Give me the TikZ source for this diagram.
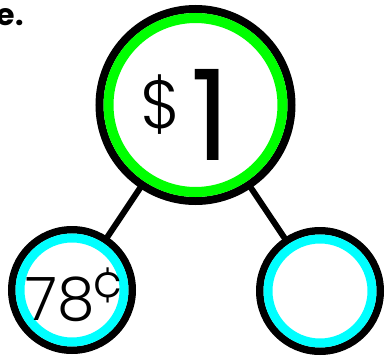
\documentclass[tikz,border=0pt]{standalone}
\usepackage{fontspec}
\setmainfont{Poppins}
\newfontfamily\plight{Poppins Light}
\definecolor{ringgreen}{RGB}{0,255,0}
\definecolor{ringcyan}{RGB}{0,255,255}
\tikzset{
  ring/.style={circle, draw=black, fill=white, inner sep=0pt, outer sep=0pt},
  link/.style={line width=6pt},
  numtxt/.style={inner sep=0pt, outer sep=0pt, anchor=base, font=\plight}
}
\begin{document}
\begin{tikzpicture}[x=1pt, y=-1pt]
\useasboundingbox (0,0) rectangle (386,356);
% top circle
\node[ring, minimum size=192pt, line width=8pt] (top) at (195.5,105) {};
\node[ring, draw=ringgreen, minimum size=174pt, line width=10pt] (topin) at (top.center) {};
% left circle
\node[ring, minimum size=120.5pt, line width=7.5pt] (left) at (72,290) {};
\node[ring, draw=ringcyan, minimum size=104pt, line width=9pt] (leftin) at (left.center) {};
% right circle
\node[ring, minimum size=120.5pt, line width=7.5pt] (right) at (320,291) {};
\node[ring, draw=ringcyan, minimum size=104pt, line width=9pt] (rightin) at (right.center) {};
% connectors
\draw[link] (top) -- (left);
\draw[link] (top) -- (right);
% texts
\node[numtxt] (dollar) at (161,128) {\fontsize{68}{68}\selectfont\$};
\node[numtxt, font=\rmfamily] (one) at (211,160) {\fontsize{126}{126}\selectfont 1};
\node[numtxt] (seventyeight) at (60,320) {\fontsize{60}{60}\selectfont 78};
\node[numtxt, anchor=base west] (cent) at (92,298) {\fontsize{50}{50}\selectfont ¢};
\node[inner sep=0pt, anchor=base east, font=\bfseries\fontsize{30}{30}\selectfont] (tail) at (24,26) {e.};
\end{tikzpicture}
\end{document}
